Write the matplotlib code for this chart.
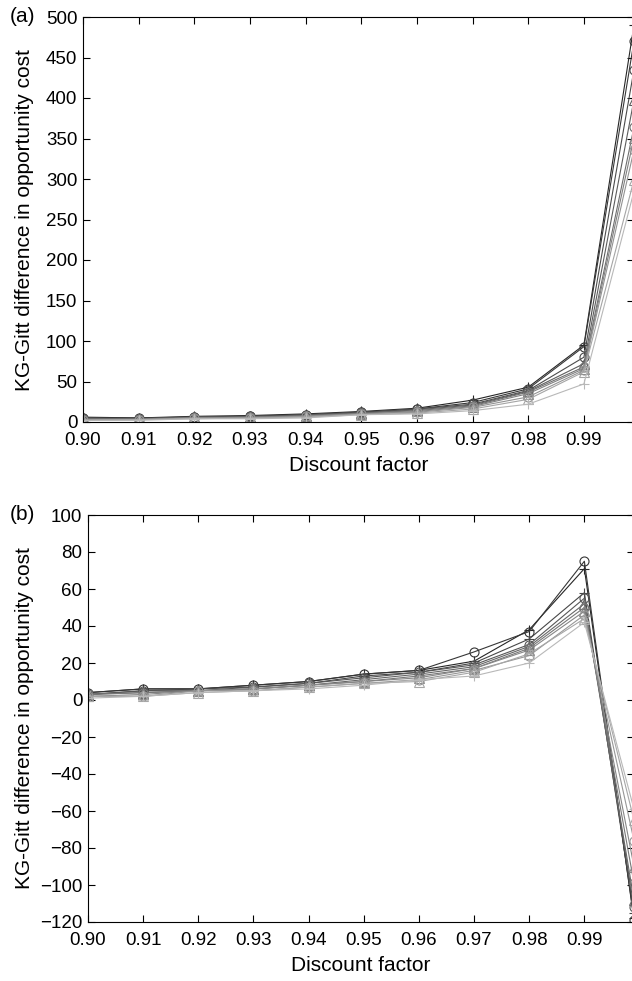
import numpy as np
import matplotlib.pyplot as plt

plt.rcParams['font.family'] = ['Liberation Sans', 'DejaVu Sans']

x = [0.90, 0.91, 0.92, 0.93, 0.94, 0.95, 0.96, 0.97, 0.98, 0.99, 0.999]
xticks = [0.90, 0.91, 0.92, 0.93, 0.94, 0.95, 0.96, 0.97, 0.98, 0.99]

# panel (a) series, darkest first
a_series = [
    [6, 5, 7, 8, 10, 13, 17, 27, 43, 95, 490],
    [5, 5, 6, 7, 9, 12, 16, 24, 41, 93, 470],
    [5, 4, 6, 7, 9, 12, 16, 22, 39, 80, 435],
    [4, 4, 6, 6, 8, 11, 15, 21, 38, 72, 398],
    [4, 4, 5, 6, 8, 11, 14, 20, 37, 68, 364],
    [3, 3, 5, 6, 7, 10, 13, 19, 35, 66, 351],
    [3, 3, 5, 5, 7, 10, 12, 18, 31, 64, 336],
    [2, 3, 4, 5, 6, 9, 11, 16, 28, 62, 299],
    [2, 2, 4, 4, 5, 9, 10, 14, 22, 47, 285],
]
a_markers = ['+', 'o', 'o', '^', 'o', '^', 'o', '^', '+']

# panel (b) series, darkest first
b_series = [
    [4, 6, 6, 8, 10, 14, 16, 21, 38, 71, -118],
    [4, 6, 6, 8, 10, 14, 16, 26, 37, 75, -119],
    [3, 5, 6, 7, 9, 13, 15, 20, 33, 58, -115],
    [3, 5, 5, 7, 9, 12, 15, 19, 30, 55, -112],
    [3, 4, 5, 6, 8, 11, 14, 18, 29, 52, -108],
    [3, 4, 5, 6, 8, 10, 13, 17, 28, 50, -99],
    [2, 3, 5, 6, 8, 10, 12, 17, 27, 48, -90],
    [2, 2, 5, 5, 7, 9, 11, 16, 24, 46, -76],
    [2, 2, 4, 5, 7, 9, 10, 15, 25, 44, -65],
    [1, 2, 4, 5, 6, 8, 11, 13, 20, 42, -59],
]
b_markers = ['+', 'o', '+', 'o', '^', 'o', '^', 'o', '^', '+']

fig = plt.figure(figsize=(6.32, 9.81), dpi=100)
W, H = 632, 981
ax1 = fig.add_axes([83 / W, 1 - 422 / H, (634 - 83) / W, (422 - 17) / H])
ax2 = fig.add_axes([88 / W, 1 - 922 / H, (634 - 88) / W, (922 - 515) / H])


def draw(ax, series, markers):
    grays = np.linspace(0.15, 0.72, len(series))
    for vals, m, g in zip(series, markers, grays):
        ax.plot(x, vals, color=str(g), lw=0.8, marker=m, ms=6.5,
                mfc='none', mec=str(g), mew=0.8, clip_on=True)
    ax.set_xlim(0.90, 0.999)
    ax.set_xticks(xticks)
    ax.set_xticklabels(['%.2f' % t for t in xticks])
    ax.tick_params(direction='in', top=True, right=True, length=5,
                   labelsize=13.5, width=0.8)
    ax.tick_params(axis='x', pad=7)
    ax.tick_params(axis='y', pad=4)
    ax.spines['right'].set_visible(False)
    ax.set_xlabel('Discount factor', fontsize=15, labelpad=5)


draw(ax1, a_series, a_markers)
ax1.set_ylim(0, 500)
ax1.set_yticks(range(0, 501, 50))

draw(ax2, b_series, b_markers)
ax2.set_ylim(-120, 100)
ax2.set_yticks(range(-120, 101, 20))
ax2.set_yticklabels(['\u2212%d' % -v if v < 0 else '%d' % v
                     for v in range(-120, 101, 20)])

ylab = 'KG-Gitt difference in opportunity cost'
fig.text(25 / W, 1 - 220 / H, ylab, fontsize=15, rotation=90,
         ha='center', va='center')
fig.text(25 / W, 1 - 718 / H, ylab, fontsize=15, rotation=90,
         ha='center', va='center')

fig.text(10 / W, 1 - 17 / H, '(a)', fontsize=15, va='center')
fig.text(10 / W, 1 - 515 / H, '(b)', fontsize=15, va='center')

fig.savefig('out.png', dpi=100)
